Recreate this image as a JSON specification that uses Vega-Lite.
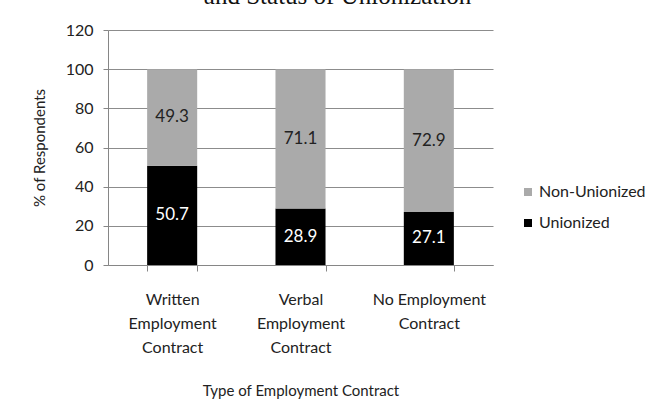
{
  "$schema": "https://vega.github.io/schema/vega-lite/v6.json",
  "width": 385,
  "height": 235,
  "autosize": {"type": "none"},
  "padding": {"top": 30, "left": 108, "right": 165, "bottom": 140},
  "background": "white",
  "title": {
    "text": "and Status of Unionization",
    "font": "Liberation Serif",
    "fontSize": 25,
    "fontWeight": "normal",
    "color": "#111111",
    "anchor": "middle",
    "frame": "group",
    "dx": 37,
    "baseline": "alphabetic",
    "offset": -7
  },
  "config": {
    "font": "Lato",
    "view": {"stroke": null},
    "axis": {
      "labelFont": "Lato",
      "titleFont": "Lato",
      "labelColor": "#222222",
      "titleColor": "#222222",
      "titleFontWeight": "normal",
      "domainColor": "#868686",
      "tickColor": "#868686",
      "gridColor": "#8c8c8c"
    },
    "axisY": {
      "title": "% of Respondents",
      "titleFontSize": 15,
      "titlePadding": 18,
      "values": [0, 20, 40, 60, 80, 100, 120],
      "labelFontSize": 16,
      "labelPadding": 10,
      "labelOverlap": false,
      "tickSize": 5,
      "grid": true
    }
  },
  "data": {
    "values": [
      {"contract": "Written Employment Contract", "status": "Unionized", "pct": 50.7},
      {"contract": "Written Employment Contract", "status": "Non-Unionized", "pct": 49.3},
      {"contract": "Verbal Employment Contract", "status": "Unionized", "pct": 28.9},
      {"contract": "Verbal Employment Contract", "status": "Non-Unionized", "pct": 71.1},
      {"contract": "No Employment Contract", "status": "Unionized", "pct": 27.1},
      {"contract": "No Employment Contract", "status": "Non-Unionized", "pct": 72.9}
    ]
  },
  "transform": [
    {"stack": "pct", "groupby": ["contract"], "sort": [{"field": "status", "order": "descending"}], "as": ["y0", "y1"]},
    {"calculate": "(datum.y0 + datum.y1) / 2", "as": "ymid"}
  ],
  "encoding": {
    "x": {
      "field": "contract",
      "type": "nominal",
      "sort": ["Written Employment Contract", "Verbal Employment Contract", "No Employment Contract"],
      "scale": {"paddingInner": 0.61, "paddingOuter": 0.305},
      "axis": {
        "title": "Type of Employment Contract",
        "titleFontSize": 15,
        "titlePadding": 28,
        "labelAngle": 0,
        "labelFontSize": 16,
        "labelLineHeight": 24,
        "labelPadding": 20,
        "tickBand": "extent",
        "ticks": true,
        "tickSize": 6,
        "labelExpr": "isString(datum.value) ? (datum.value == 'No Employment Contract' ? ['No Employment', 'Contract'] : split(datum.value, ' ')) : ''"
      }
    }
  },
  "layer": [
    {
      "mark": {"type": "bar"},
      "encoding": {
        "y": {
          "field": "y1",
          "type": "quantitative",
          "title": "% of Respondents",
          "scale": {"domain": [0, 120], "nice": false}
        },
        "y2": {"field": "y0"},
        "color": {
          "field": "status",
          "type": "nominal",
          "scale": {"domain": ["Non-Unionized", "Unionized"], "range": ["#aaaaaa", "#000000"]},
          "legend": {
            "title": null,
            "orient": "none",
            "legendX": 412,
            "legendY": 154,
            "symbolType": "square",
            "symbolSize": 64,
            "symbolStrokeWidth": 0,
            "labelFont": "Lato",
            "labelFontSize": 16,
            "labelColor": "#222222",
            "labelOffset": 3,
            "rowPadding": 15,
            "padding": 0
          }
        }
      }
    },
    {
      "mark": {"type": "text", "font": "Lato", "fontSize": 17, "baseline": "middle"},
      "encoding": {
        "y": {"field": "ymid", "type": "quantitative", "title": "% of Respondents"},
        "text": {"field": "pct", "type": "quantitative", "format": ".1f"},
        "color": {
          "condition": {"test": "datum.status == 'Unionized'", "value": "#ffffff"},
          "value": "#222222"
        }
      }
    }
  ]
}
